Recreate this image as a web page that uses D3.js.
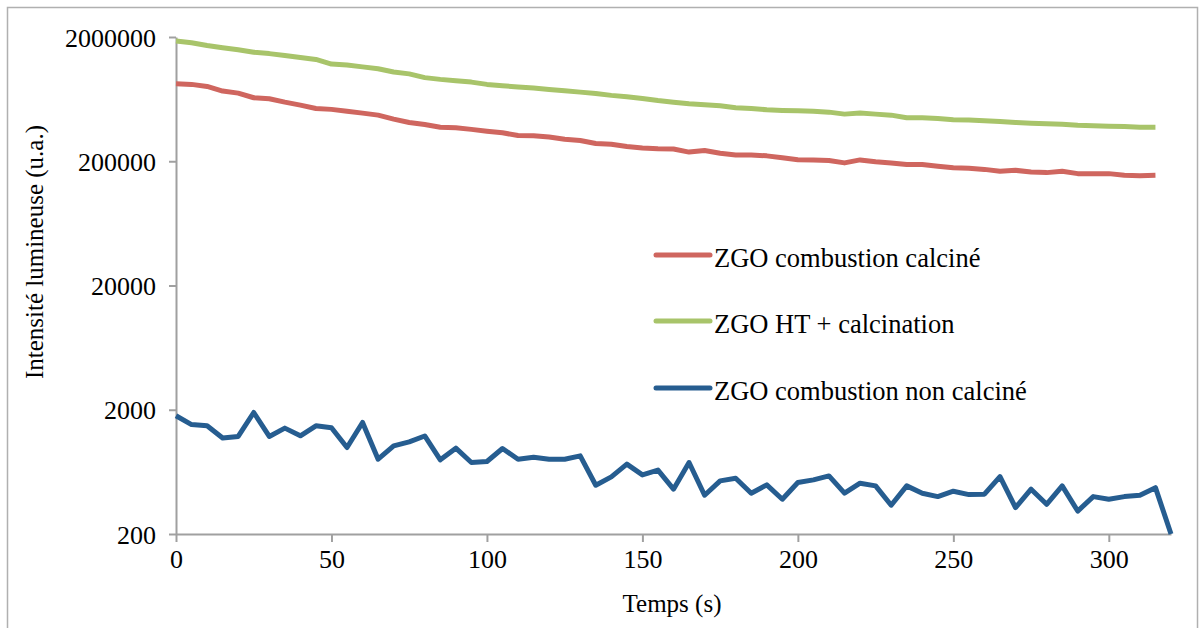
<!DOCTYPE html>
<html>
<head>
<meta charset="utf-8">
<script src="https://cdn.jsdelivr.net/npm/d3@7"></script>
<style>
  body { margin: 0; background: #fff; }
  .axis path, .axis line { stroke: #a0a0a0; stroke-width: 2; }
</style>
</head>
<body>
<div class="chart"></div>
<script>
// data (time step 5 s)
var seriesNames = ["ZGO combustion calciné", "ZGO HT + calcination", "ZGO combustion non calciné"];
var seriesColors = ["#cf665f", "#a8c46a", "#265d90"];

var redValues = [841000, 831000, 800000, 734000, 707000, 649000, 637000, 598000, 566000, 532000,
  523000, 506000, 488000, 470000, 437000, 410000, 395000, 376000, 372000, 361000,
  349000, 339000, 322000, 321000, 313000, 301000, 294000, 278000, 274000, 263000,
  256000, 252000, 251000, 237000, 244000, 232000, 225000, 225000, 221000, 213000,
  206000, 205000, 203000, 194000, 205000, 198000, 194000, 188000, 188000, 182000,
  177000, 176000, 172000, 166000, 169000, 164000, 162000, 166000, 159000, 159000,
  159000, 154000, 153000, 154000];

var greenValues = [1860000, 1800000, 1710000, 1640000, 1580000, 1510000, 1470000, 1420000, 1370000, 1320000,
  1210000, 1190000, 1150000, 1110000, 1045000, 1010000, 942000, 912000, 889000, 867000,
  831000, 811000, 791000, 776000, 757000, 739000, 720000, 703000, 678000, 661000,
  641000, 617000, 598000, 581000, 570000, 560000, 540000, 532000, 519000, 513000,
  510000, 506000, 497000, 479000, 488000, 479000, 470000, 448000, 448000, 442000,
  432000, 429000, 423000, 418000, 410000, 405000, 400000, 397000, 390000, 386000,
  383000, 381000, 376000, 376000];

var blueValues = [1790, 1520, 1486, 1183, 1219, 1901, 1219, 1423, 1234, 1486,
  1432, 993, 1580, 800, 1025, 1104, 1230, 791, 982, 752,
  766, 975, 800, 830, 800, 800, 851, 494, 577, 730,
  598, 653, 459, 752, 410, 535, 562, 426, 497, 381,
  519, 545, 587, 426, 513, 488, 341, 488, 426, 400,
  442, 415, 418, 580, 326, 459, 347, 488, 306, 400,
  381, 400, 410, 472, 200];

var xTicks = [0, 50, 100, 150, 200, 250, 300];
var yTicks = [200, 2000, 20000, 200000, 2000000];

var xaxistext = "Temps (s)";
var yaxistext = "Intensité lumineuse (u.a.)";

var FONT = "Liberation Serif";

function toPoints(vals) {
  return vals.map(function(v, i) { return { x: i * 5, y: v }; });
}
var series = [toPoints(redValues), toPoints(greenValues), toPoints(blueValues)];

// setup
var W = 1204, H = 628;
var margin = {top: 37, right: 33, bottom: 94, left: 176},
    width = W - margin.left - margin.right,
    height = H - margin.top - margin.bottom;

var root = d3.select(".chart").append("svg")
    .attr("width", W)
    .attr("height", H);

// outer frame
root.append("rect")
    .attr("x", 7.5).attr("y", 7.5)
    .attr("width", 1190).attr("height", 660)
    .attr("fill", "none")
    .attr("stroke", "#b0b0b0")
    .attr("stroke-width", 1.5);

var svg = root.append("g")
    .attr("transform", "translate(" + margin.left + "," + margin.top + ")");

var x = d3.scaleLinear().domain([0, 320]).range([0, width]);
var y = d3.scaleLog().domain([200, 2000000]).range([height, 0]);

var xAxis = d3.axisBottom(x).tickValues(xTicks).tickSize(8).tickSizeOuter(0).tickPadding(8);
var yAxis = d3.axisLeft(y).tickValues(yTicks).tickFormat(d3.format("d")).tickSize(7).tickSizeOuter(0).tickPadding(13);

var gx = svg.append("g")
    .attr("class", "x axis")
    .attr("transform", "translate(0," + height + ")")
    .call(xAxis);

var gy = svg.append("g")
    .attr("class", "y axis")
    .call(yAxis);

svg.selectAll(".axis").attr("font-family", FONT).attr("font-size", 26);
svg.selectAll(".axis text").attr("fill", "#000");
gy.selectAll("text").attr("dy", "0.35em");

// lines
var line = d3.line()
    .x(function(d) { return x(d.x); })
    .y(function(d) { return y(d.y); });

svg.selectAll(".series")
    .data(series)
  .enter().append("path")
    .attr("class", "series")
    .attr("d", line)
    .attr("fill", "none")
    .attr("stroke", function(d, i) { return seriesColors[i]; })
    .attr("stroke-width", 5)
    .attr("stroke-linejoin", "round");

// legend
var legendY = [255, 321, 388];
var legend = root.selectAll(".legend")
    .data(seriesNames)
  .enter().append("g")
    .attr("class", "legend")
    .attr("transform", function(d, i) { return "translate(656," + legendY[i] + ")"; });

legend.append("line")
    .attr("x1", 0).attr("x2", 54)
    .attr("stroke", function(d, i) { return seriesColors[i]; })
    .attr("stroke-width", 5)
    .attr("stroke-linecap", "round");

legend.append("text")
    .attr("x", 58)
    .attr("y", 12)
    .attr("font-family", FONT)
    .attr("font-size", 26.5)
    .text(function(d) { return d; });

// text label for the x axis
root.append("text")
    .attr("x", 672)
    .attr("y", 612)
    .attr("font-family", FONT)
    .attr("font-size", 25)
    .style("text-anchor", "middle")
    .text(xaxistext);

// text label for the y axis
root.append("text")
    .attr("transform", "translate(43,252) rotate(-90)")
    .attr("font-family", FONT)
    .attr("font-size", 25)
    .style("text-anchor", "middle")
    .text(yaxistext);
</script>
</body>
</html>
